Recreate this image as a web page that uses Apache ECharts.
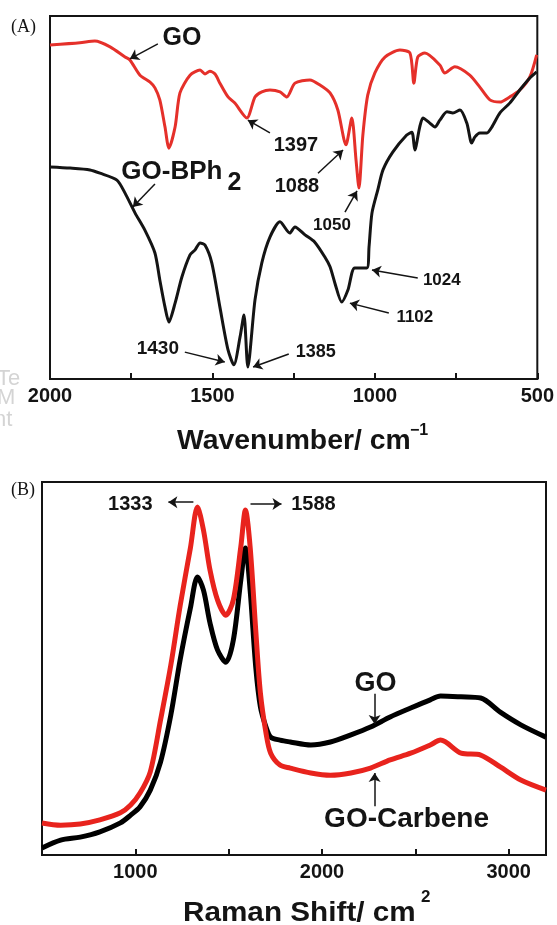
<!DOCTYPE html>
<html>
<head>
<meta charset="utf-8">
<script src="https://cdn.jsdelivr.net/npm/echarts@6/dist/echarts.min.js"></script>
<style>
  html, body { margin: 0; padding: 0; background: #fff; }
  #chart { width: 557px; height: 925px; }
</style>
</head>
<body>
<div id="chart"></div>
<script>
// (A) FTIR, transmittance in arbitrary units (0-100)
var goWn = [2000, 1908, 1862, 1815, 1769, 1754, 1723, 1692, 1677, 1662, 1646, 1634, 1615, 1600, 1569, 1538, 1523, 1508, 1492, 1477, 1452, 1431, 1394, 1369, 1348, 1323, 1292, 1271, 1246, 1200, 1169, 1138, 1114, 1089, 1071, 1058, 1049, 1037, 1022, 1000, 969, 923, 892, 880, 868, 846, 800, 785, 754, 708, 677, 646, 615, 585, 554, 523, 502]
var goT = [92.0, 92.6, 93.1, 91.5, 88.7, 87.9, 83.7, 81.8, 80.2, 76.9, 69.4, 63.6, 69.4, 78.8, 83.7, 85.1, 84.0, 84.8, 84.0, 81.5, 77.7, 76.0, 71.9, 77.7, 79.1, 79.6, 79.1, 77.7, 81.5, 82.4, 81.0, 78.8, 74.1, 64.5, 71.9, 60.3, 52.6, 67.2, 78.2, 84.3, 88.7, 90.6, 89.8, 81.5, 88.7, 89.8, 86.5, 84.3, 86.0, 83.7, 80.4, 76.9, 76.3, 77.7, 79.6, 83.2, 89.3]
var bphWn = [2000, 1938, 1877, 1846, 1794, 1769, 1738, 1708, 1677, 1662, 1646, 1634, 1615, 1594, 1569, 1554, 1538, 1523, 1502, 1477, 1452, 1434, 1415, 1403, 1391, 1369, 1348, 1323, 1292, 1262, 1246, 1215, 1185, 1154, 1138, 1123, 1102, 1083, 1062, 1025, 1018, 1009, 991, 975, 945, 902, 886, 877, 862, 852, 831, 815, 800, 778, 760, 738, 717, 702, 692, 677, 655, 640, 615, 585, 554, 523, 502]
var bphT = [58.4, 58.1, 57.6, 56.7, 54.8, 51.2, 45.7, 41.0, 34.7, 27.3, 19.8, 15.7, 20.9, 28.1, 34.2, 35.5, 37.5, 36.9, 32.0, 19.8, 8.0, 3.9, 11.6, 17.6, 3.3, 21.8, 32.0, 39.1, 43.3, 40.2, 41.9, 39.7, 37.7, 33.6, 30.9, 26.4, 21.2, 24.5, 30.6, 30.6, 36.4, 45.7, 52.1, 57.6, 62.5, 67.2, 68.0, 63.1, 69.4, 71.9, 70.5, 69.4, 71.3, 73.6, 73.3, 74.1, 70.5, 65.0, 66.7, 67.8, 67.8, 69.4, 73.3, 76.0, 79.6, 82.9, 84.6]

// (B) Raman, intensity in arbitrary units (0-100)
var ramanShift = [500, 600, 705, 810, 920, 975, 1025, 1080, 1135, 1190, 1240, 1295, 1333, 1365, 1400, 1440, 1485, 1525, 1565, 1590, 1615, 1645, 1670, 1700, 1725, 1775, 1830, 1940, 2045, 2155, 2260, 2365, 2475, 2580, 2635, 2745, 2850, 2955, 3065, 3200]
var goRaman = [1.9, 4.0, 4.8, 6.2, 8.6, 10.7, 12.9, 17.4, 24.9, 37.5, 52.3, 66.2, 74.5, 71.0, 62.2, 55.0, 51.7, 57.6, 73.7, 82.3, 71.0, 50.4, 39.7, 34.3, 31.6, 30.8, 30.3, 29.5, 30.3, 32.2, 34.3, 37.0, 39.4, 41.6, 42.6, 42.4, 42.1, 38.3, 34.9, 31.6]
var carbeneRaman = [8.6, 8.0, 8.3, 9.4, 11.3, 13.4, 16.6, 22.3, 36.2, 50.9, 66.8, 82.3, 93.3, 87.1, 76.4, 68.4, 64.3, 68.4, 82.6, 92.5, 82.6, 60.3, 43.4, 32.7, 27.3, 24.1, 23.3, 22.0, 21.4, 22.0, 23.3, 25.5, 27.3, 29.5, 30.8, 27.3, 26.8, 23.6, 20.1, 17.4]

// labelled tick values
var irTicks = [2000, 1500, 1000, 500]
var ramanTicks = [1000, 2000, 3000]

// annotations, in data units: text position, arrow start, arrow end
var irNotes = [
  { text: 'GO', at: [1594, 93.8], size: 25, from: [1668, 92.3], to: [1754, 88.2] },
  { text: 'GO-BPh', at: [1625, 57.0], size: 26, from: [1677, 53.7], to: [1745, 47.4] },
  { text: '2', at: [1432, 54.0], size: 25 },
  { text: '1397', at: [1243, 64.2], size: 20, from: [1323, 67.8], to: [1391, 71.3] },
  { text: '1088', at: [1240, 52.9], size: 20, from: [1175, 56.7], to: [1098, 63.1] },
  { text: '1050', at: [1132, 42.4], size: 17, from: [1092, 46.0], to: [1055, 51.8] },
  { text: '1024', at: [794, 27.3], size: 17, from: [868, 27.8], to: [1009, 30.0] },
  { text: '1102', at: [877, 17.1], size: 17, from: [957, 18.2], to: [1077, 20.9] },
  { text: '1385', at: [1182, 7.4], size: 18, from: [1265, 6.9], to: [1375, 3.3] },
  { text: '1430', at: [1668, 8.3], size: 19, from: [1585, 7.4], to: [1462, 4.7] }
]
var ramanNotes = [
  { text: '1333', at: [973, 94.1], size: 20, from: [1311, 94.6], to: [1177, 94.6] },
  { text: '1588', at: [1954, 94.1], size: 20, from: [1617, 94.1], to: [1783, 94.1] },
  { text: 'GO', at: [2287, 46.1], size: 27, from: [2282, 43.2], to: [2282, 35.1] },
  { text: 'GO-Carbene', at: [2453, 9.7], size: 28, from: [2282, 13.1], to: [2282, 22.0] }
]

var RED = '#e5302a'
var INK = '#141414'
var FONT = '"Liberation Sans", Arial, sans-serif'

function zip (xs, ys) {
  return xs.map(function (x, i) { return [x, ys[i]] })
}

function arrows (notes) {
  return notes.filter(function (n) { return n.from }).map(function (n) {
    return [{ coord: n.from }, { coord: n.to }]
  })
}

function xAxisOf (grid, min, max, interval, labels, inverse) {
  return {
    type: 'value',
    gridIndex: grid,
    min: min,
    max: max,
    interval: interval,
    inverse: inverse,
    axisLine: { lineStyle: { color: INK, width: 2 } },
    axisTick: { inside: true, length: 6, lineStyle: { color: INK, width: 2 } },
    splitLine: { show: false },
    axisLabel: {
      margin: 7,
      color: INK,
      fontSize: 20,
      fontWeight: 'bold',
      fontFamily: FONT,
      showMinLabel: true,
      showMaxLabel: true,
      formatter: function (v) { return labels.indexOf(v) >= 0 ? String(v) : '' }
    }
  }
}

function yAxisOf (grid) {
  return {
    type: 'value',
    gridIndex: grid,
    min: 0,
    max: 100,
    axisLine: { show: true, lineStyle: { color: INK, width: 2 } },
    axisTick: { show: false },
    axisLabel: { show: false },
    splitLine: { show: false }
  }
}

var arrowLine = function (notes) {
  return {
    silent: true,
    symbol: ['none', 'arrow'],
    symbolSize: 9,
    label: { show: false },
    lineStyle: { color: INK, width: 1.5, type: 'solid' },
    emphasis: { disabled: true },
    data: arrows(notes)
  }
}

var chart = echarts.init(document.getElementById('chart'))
var option = {
  animation: false,
  backgroundColor: '#fff',
  grid: [
    { left: 50, top: 16, width: 488, height: 363, show: true, borderColor: INK, borderWidth: 2 },
    { left: 42, top: 482, width: 504, height: 373, show: true, borderColor: INK, borderWidth: 2 }
  ],
  xAxis: [
    xAxisOf(0, 500, 2000, 250, irTicks, true),
    xAxisOf(1, 500, 3200, 500, ramanTicks, false)
  ],
  yAxis: [yAxisOf(0), yAxisOf(1)],
  series: [
    {
      name: 'GO',
      type: 'line',
      xAxisIndex: 0,
      yAxisIndex: 0,
      data: zip(goWn, goT),
      showSymbol: false,
      smooth: 0.25,
      lineStyle: { color: RED, width: 3 },
      markLine: arrowLine(irNotes)
    },
    {
      name: 'GO-BPh2',
      type: 'line',
      xAxisIndex: 0,
      yAxisIndex: 0,
      data: zip(bphWn, bphT),
      showSymbol: false,
      smooth: 0.25,
      lineStyle: { color: INK, width: 3 }
    },
    {
      name: 'GO Raman',
      type: 'line',
      xAxisIndex: 1,
      yAxisIndex: 1,
      data: zip(ramanShift, goRaman),
      showSymbol: false,
      smooth: 0.3,
      lineStyle: { color: '#000', width: 5 },
      markLine: arrowLine(ramanNotes)
    },
    {
      name: 'GO-Carbene Raman',
      type: 'line',
      xAxisIndex: 1,
      yAxisIndex: 1,
      data: zip(ramanShift, carbeneRaman),
      showSymbol: false,
      smooth: 0.3,
      lineStyle: { color: '#e8231d', width: 5 }
    }
  ]
}
chart.setOption(option)

function txt (x, y, text, size, opts) {
  opts = opts || {}
  return {
    type: 'text',
    x: x,
    y: y,
    scaleX: opts.scaleX || 1,
    silent: true,
    style: {
      text: text,
      fontSize: size,
      fontWeight: opts.weight || 'bold',
      fontFamily: opts.family || FONT,
      fill: opts.color || INK,
      align: opts.align || 'center',
      verticalAlign: 'middle'
    }
  }
}

var graphics = []
irNotes.forEach(function (n) {
  var p = chart.convertToPixel({ gridIndex: 0 }, n.at)
  graphics.push(txt(p[0], p[1], n.text, n.size))
})
ramanNotes.forEach(function (n) {
  var p = chart.convertToPixel({ gridIndex: 1 }, n.at)
  graphics.push(txt(p[0], p[1], n.text, n.size))
})

// panel letters and axis titles
graphics.push(txt(11, 27, '(A)', 18, { weight: 'normal', family: '"Liberation Serif", serif', align: 'left' }))
graphics.push(txt(11, 490, '(B)', 18, { weight: 'normal', family: '"Liberation Serif", serif', align: 'left' }))
graphics.push(txt(177, 442, 'Wavenumber/ cm', 27, { align: 'left', scaleX: 1.05 }))
graphics.push(txt(410, 431, '\u22121', 16, { align: 'left' }))
graphics.push(txt(183, 914, 'Raman Shift/ cm', 27, { align: 'left', scaleX: 1.1 }))
graphics.push(txt(421, 897, '2', 17, { align: 'left' }))
// faint bleed-through text at the left edge
graphics.push(txt(-3, 379, 'Te', 22, { weight: 'normal', color: '#d4d4d4', align: 'left' }))
graphics.push(txt(-3, 398, 'M', 22, { weight: 'normal', color: '#d4d4d4', align: 'left' }))
graphics.push(txt(-6, 420, 'nt', 22, { weight: 'normal', color: '#d4d4d4', align: 'left' }))

chart.setOption({ graphic: graphics })
</script>
</body>
</html>
